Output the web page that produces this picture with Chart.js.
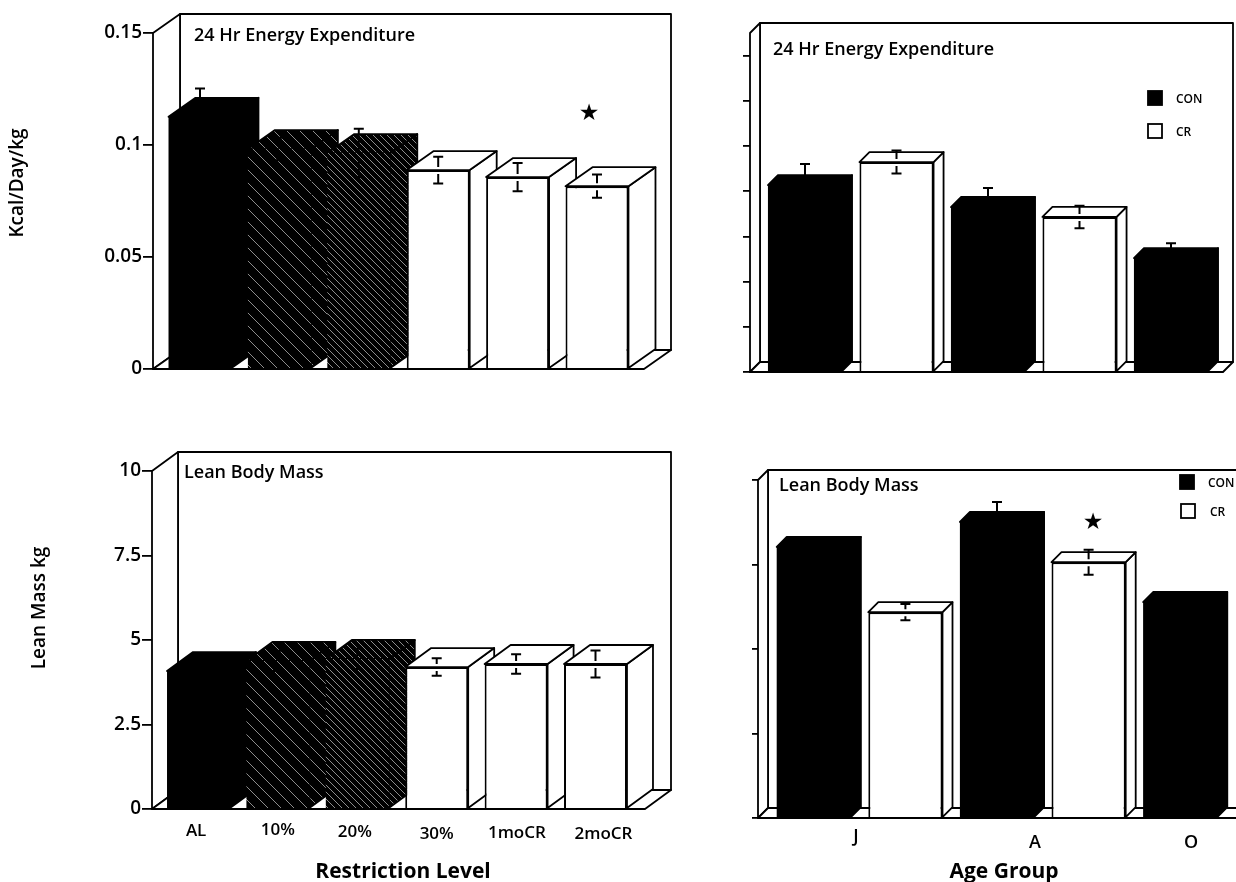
<!DOCTYPE html>
<html>
<head>
<meta charset="utf-8">
<title>Energy expenditure and lean mass</title>
<script src="https://cdn.jsdelivr.net/npm/chart.js@4"></script>
<style>
  html, body { margin: 0; padding: 0; background: #fff; overflow: hidden; }
  canvas { position: absolute; }
</style>
</head>
<body>
<canvas id="energyRestriction" width="700" height="410" style="left:0;top:0"></canvas>
<canvas id="energyAge" width="536" height="410" style="left:700px;top:0"></canvas>
<canvas id="massRestriction" width="700" height="472" style="left:0;top:410px"></canvas>
<canvas id="massAge" width="536" height="472" style="left:700px;top:410px"></canvas>
<script>
var FONT = '"Open Sans", sans-serif';

// values
var restrictionLevels = ['AL', '10%', '20%', '30%', '1moCR', '2moCR'];
var energyByRestriction = [0.1126, 0.0982, 0.0964, 0.0888, 0.0857, 0.0816];
var energyByRestrictionErr = [0.0126, 0.005, 0.0108, 0.006, 0.0063, 0.0052];
var massByRestriction = [4.08, 4.38, 4.44, 4.2, 4.29, 4.29];
var massByRestrictionErr = [0.3, 0.3, 0.3, 0.26, 0.29, 0.4];

var ageBars = ['J CON', 'J CR', 'A CON', 'A CR', 'O CON'];
var ageGroups = ['J', 'A', 'O'];
var energyByAge = [0.0827, 0.0929, 0.073, 0.0686, 0.0504];
var energyByAgeErr = [0.0093, 0.0051, 0.0084, 0.005, 0.0066];
var massByAge = [8.02, 6.09, 8.76, 7.57, 6.39];
var massByAgeErr = [0.25, 0.24, 0.59, 0.37, 0.25];

var energyTicks = [0, 0.05, 0.1, 0.15];
var energyAgeTicks = [0, 0.02, 0.04, 0.06, 0.08, 0.1, 0.12, 0.14];
var massTicks = [0, 2.5, 5, 7.5, 10];

var legendNames = ['CON', 'CR'];

function hatch(size) {
  var c = document.createElement('canvas');
  c.width = size;
  c.height = size;
  var g = c.getContext('2d');
  g.fillStyle = '#000';
  g.fillRect(0, 0, size, size);
  g.strokeStyle = '#b0b0b0';
  g.lineWidth = 0.8;
  g.beginPath();
  g.moveTo(-1, -1);
  g.lineTo(size + 1, size + 1);
  g.stroke();
  return g.createPattern(c, 'repeat');
}

var BLACK = '#000';
var WHITE = '#fff';
var restrictionFills = [BLACK, hatch(13), hatch(7), WHITE, WHITE, WHITE];
var ageFills = [BLACK, WHITE, BLACK, WHITE, BLACK];

function poly(ctx, pts, fill) {
  ctx.beginPath();
  pts.forEach(function(p, i) {
    if (i === 0) ctx.moveTo(p[0], p[1]); else ctx.lineTo(p[0], p[1]);
  });
  ctx.closePath();
  if (fill) {
    ctx.fillStyle = fill;
    ctx.fill();
  }
  ctx.stroke();
}

// draws the walls, the bar depth, error bars and the notes inside the plot
function boxPlugin(cfg) {
  return {
    id: 'box3d',
    beforeDatasetsDraw: function(chart) {
      var ctx = chart.ctx;
      var a = chart.chartArea;
      var dx = cfg.dx, dy = cfg.dy;
      var fl = cfg.frameLeft - cfg.ox, fr = cfg.frameRight - cfg.ox;
      var top = a.top, bot = a.bottom;
      ctx.save();
      ctx.strokeStyle = '#000';
      ctx.lineWidth = 1.8;
      ctx.lineJoin = 'round';
      poly(ctx, [[fl + dx, top + dy], [fr + dx, top + dy], [fr + dx, bot + dy], [fl + dx, bot + dy]], WHITE);
      poly(ctx, [[fl, top], [fl + dx, top + dy], [fl + dx, bot + dy], [fl, bot]], WHITE);
      poly(ctx, [[fl, bot], [fr, bot], [fr + dx, bot + dy], [fl + dx, bot + dy]], WHITE);
      var meta = chart.getDatasetMeta(0);
      meta.data.forEach(function(el, i) {
        var l = el.x - el.width / 2, r = el.x + el.width / 2;
        var fill = cfg.fills[i];
        poly(ctx, [[r, el.y], [r + dx, el.y + dy], [r + dx, el.base + dy], [r, el.base]], fill);
        poly(ctx, [[l, el.y], [l + dx, el.y + dy], [r + dx, el.y + dy], [r, el.y]], fill);
      });
      ctx.restore();
    },
    afterDatasetsDraw: function(chart) {
      var ctx = chart.ctx;
      var y = chart.scales.y;
      var meta = chart.getDatasetMeta(0);
      ctx.save();
      ctx.strokeStyle = '#000';
      ctx.lineWidth = 2;
      meta.data.forEach(function(el, i) {
        var v = cfg.values[i], e = cfg.errs[i];
        var up = y.getPixelForValue(v + e), down = y.getPixelForValue(v - e), mid = y.getPixelForValue(v);
        ctx.beginPath();
        ctx.moveTo(el.x - 5, up);
        ctx.lineTo(el.x + 5, up);
        ctx.moveTo(el.x, up);
        ctx.lineTo(el.x, mid - 3);
        ctx.moveTo(el.x, mid + 4);
        ctx.lineTo(el.x, down);
        ctx.moveTo(el.x - 5, down);
        ctx.lineTo(el.x + 5, down);
        ctx.stroke();
      });
      ctx.fillStyle = '#000';
      ctx.textBaseline = 'middle';
      ctx.font = '600 18px ' + FONT;
      ctx.fillText(cfg.note, cfg.noteX - cfg.ox, cfg.noteY - cfg.oy);
      if (cfg.star) {
        ctx.font = '23px "DejaVu Sans"';
        ctx.textAlign = 'center';
        ctx.fillText('\u2605', cfg.star[0] - cfg.ox, cfg.star[1] - cfg.oy);
        ctx.textAlign = 'left';
      }
      if (cfg.legend) {
        ctx.lineWidth = 1.8;
        legendNames.forEach(function(name, i) {
          var row = cfg.legend[i];
          ctx.fillStyle = i === 0 ? BLACK : WHITE;
          ctx.fillRect(row[0] - cfg.ox, row[1] - cfg.oy, 14, 14);
          ctx.strokeRect(row[0] - cfg.ox, row[1] - cfg.oy, 14, 14);
          ctx.fillStyle = '#000';
          ctx.font = '600 12px ' + FONT;
          ctx.fillText(name, row[2] - cfg.ox, row[1] + 9 - cfg.oy);
        });
      }
      // axis titles, these sit off-centre in the original
      ctx.textAlign = 'center';
      if (cfg.xTitle) {
        ctx.font = '700 21px ' + FONT;
        ctx.fillText(cfg.xTitle, cfg.xTitleAt[0] - cfg.ox, cfg.xTitleAt[1] - cfg.oy);
      }
      if (cfg.yTitle) {
        ctx.font = '600 19px ' + FONT;
        ctx.translate(cfg.yTitleAt[0] - cfg.ox, cfg.yTitleAt[1] - cfg.oy);
        ctx.rotate(-Math.PI / 2);
        ctx.fillText(cfg.yTitle, 0, 0);
      }
      ctx.restore();
    }
  };
}

function makePanel(id, cfg) {
  var canvas = document.getElementById(id);
  var areaBottom = cfg.bottom - cfg.oy;
  var areaLeft = cfg.left - cfg.ox;
  var xHeight = canvas.height - areaBottom;
  var fixHeight = function(s) { s.height = xHeight; };

  var scales = {
    x: {
      display: !cfg.tickLabels,
      offset: true,
      grid: { display: false },
      border: { display: false },
      ticks: { display: false },
      afterFit: cfg.tickLabels ? undefined : fixHeight
    },
    y: {
      min: 0,
      max: cfg.yMax,
      position: 'left',
      border: { display: false },
      grid: {
        drawOnChartArea: false,
        drawTicks: true,
        tickLength: cfg.left - cfg.frameLeft + cfg.tickOut,
        color: '#000',
        lineWidth: 1.8
      },
      afterBuildTicks: function(s) {
        s.ticks = cfg.yTicks.map(function(v) { return { value: v }; });
      },
      ticks: {
        padding: 1,
        autoSkip: false,
        color: '#000',
        font: { family: FONT, size: 19, weight: '600' },
        callback: function(v) { return cfg.showYLabels ? String(v) : ''; }
      },
      afterFit: function(s) { s.width = areaLeft; }
    }
  };

  if (cfg.tickLabels) {
    // the labels do not sit exactly under the bars, so they get their own axis in bar-index units
    scales.labels = {
      type: 'linear',
      position: 'bottom',
      offset: false,
      min: -0.5,
      max: cfg.labels.length - 0.5,
      grid: { display: false, drawTicks: false, offset: false },
      border: { display: false },
      afterBuildTicks: function(s) {
        s.ticks = cfg.tickSpots.map(function(v) { return { value: v }; });
      },
      ticks: {
        padding: 0,
        maxRotation: 0,
        autoSkip: false,
        color: '#000',
        // a tick's line height moves it down, the scan has them uneven
        font: function(c) {
          return { family: FONT, size: cfg.tickSize, weight: '600', lineHeight: cfg.tickDrop[c.index] * 2 + 'px' };
        },
        callback: function(v, i) { return cfg.tickLabels[i]; }
      },
      afterFit: fixHeight
    };
  }

  return new Chart(canvas, {
    type: 'bar',
    data: {
      labels: cfg.labels,
      datasets: [{
        data: cfg.values,
        backgroundColor: cfg.fills,
        borderColor: '#000',
        borderWidth: cfg.fills.map(function(f) { return f === WHITE ? 2 : 0; }),
        barPercentage: cfg.barPct,
        categoryPercentage: 1
      }]
    },
    options: {
      responsive: false,
      animation: false,
      layout: {
        autoPadding: false,
        padding: { left: 0, right: canvas.width - (cfg.right - cfg.ox), top: cfg.top - cfg.oy, bottom: 0 }
      },
      plugins: { legend: { display: false }, tooltip: { enabled: false }, title: { display: false } },
      scales: scales
    },
    plugins: [boxPlugin(cfg)]
  });
}

makePanel('energyRestriction', {
  ox: 0, oy: 0, left: 160.3, right: 636.7, top: 33, bottom: 369,
  frameLeft: 153, frameRight: 644, dx: 27, dy: -19, tickOut: 10,
  labels: restrictionLevels, values: energyByRestriction, errs: energyByRestrictionErr, fills: restrictionFills,
  barPct: 0.793, yMax: 0.15, yTicks: energyTicks, showYLabels: true,
  yTitle: 'Kcal/Day/kg', yTitleAt: [18, 183],
  note: '24 Hr Energy Expenditure', noteX: 194, noteY: 36,
  star: [589, 114]
});

makePanel('energyAge', {
  ox: 700, oy: 0, left: 759.25, right: 1216.75, top: 33, bottom: 372,
  frameLeft: 750, frameRight: 1223, dx: 10, dy: -10, tickOut: 7,
  labels: ageBars, values: energyByAge, errs: energyByAgeErr, fills: ageFills,
  barPct: 0.81, yMax: 0.15, yTicks: energyAgeTicks, showYLabels: false,
  note: '24 Hr Energy Expenditure', noteX: 773, noteY: 50,
  legend: [[1148, 91, 1176], [1148, 124, 1176]]
});

makePanel('massRestriction', {
  ox: 0, oy: 410, left: 158.8, right: 635.2, top: 471, bottom: 809,
  frameLeft: 152, frameRight: 645, dx: 26, dy: -19, tickOut: 10,
  labels: restrictionLevels, values: massByRestriction, errs: massByRestrictionErr, fills: restrictionFills,
  tickLabels: restrictionLevels, tickSpots: [-0.03, 1, 1.97, 3, 4.01, 5.1], tickDrop: [22, 21, 23, 25, 24, 25], tickSize: 17,
  barPct: 0.793, yMax: 10, yTicks: massTicks, showYLabels: true,
  yTitle: 'Lean Mass kg', yTitleAt: [40, 608],
  xTitle: 'Restriction Level', xTitleAt: [403, 872],
  note: 'Lean Body Mass', noteX: 184, noteY: 473
});

makePanel('massAge', {
  ox: 700, oy: 410, left: 768, right: 1226, top: 480, bottom: 818,
  frameLeft: 758, frameRight: 1240, dx: 10, dy: -10, tickOut: 6,
  labels: ageBars, values: massByAge, errs: massByAgeErr, fills: ageFills,
  tickLabels: ageGroups, tickSpots: [0.46, 2.415, 4.12], tickDrop: [19, 25, 25], tickSize: 18,
  barPct: 0.81, yMax: 10, yTicks: massTicks, showYLabels: false,
  xTitle: 'Age Group', xTitleAt: [1004, 872],
  note: 'Lean Body Mass', noteX: 779, noteY: 486,
  star: [1093, 523],
  legend: [[1180, 475, 1208], [1181, 504, 1210]]
});
</script>
</body>
</html>
